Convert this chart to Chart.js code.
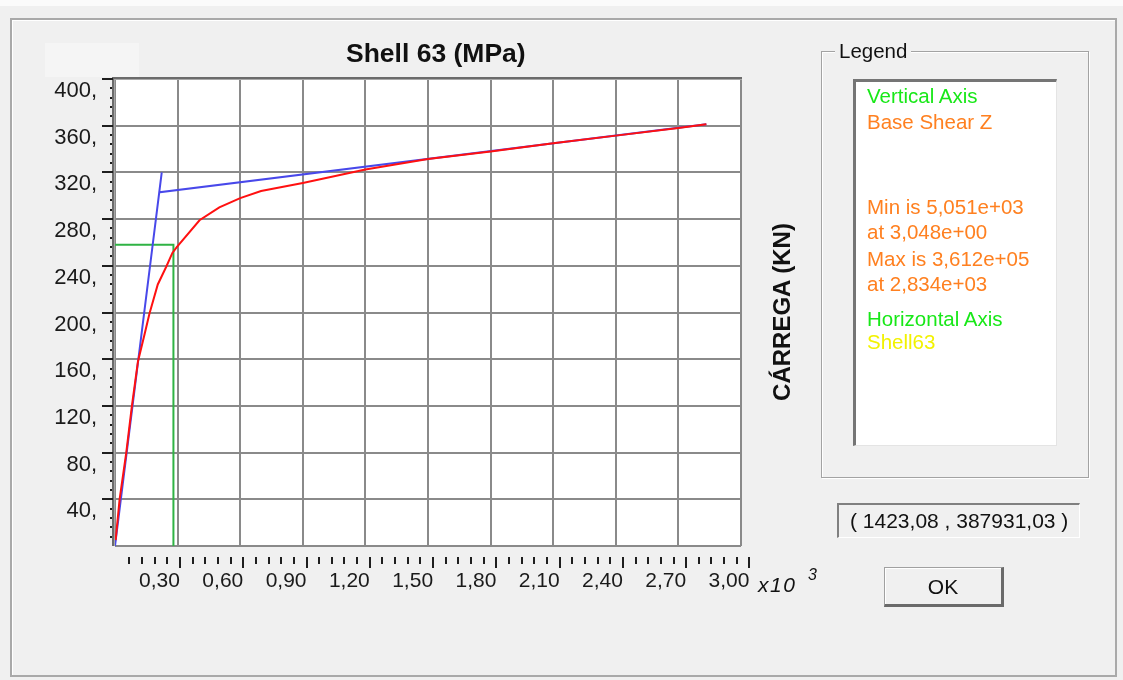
<!DOCTYPE html>
<html lang="pt">
<head>
  <meta charset="UTF-8">
  <title>Shell 63 (MPa)</title>
  <style>
    html, body { margin: 0; padding: 0; }
    body {
      width: 1123px; height: 680px; overflow: hidden; position: relative;
      background: #f0f0f0; color: #111;
      font-family: 'Liberation Sans', Arial, sans-serif;
    }
    .t { position: absolute; white-space: nowrap; line-height: 1; }
    #topStrip { position: absolute; left: 0; top: 0; width: 1123px; height: 6px; background: #fbfbfb; }
    #frame {
      position: absolute; left: 10px; top: 18px; width: 1107px; height: 659px;
      box-sizing: border-box; border: 2px solid #a9a9a9; box-shadow: inset 1px 1px 0 #fff;
    }
    #ghost { position: absolute; left: 45px; top: 43px; width: 94px; height: 34px; background: #f5f5f5; }
    canvas { position: absolute; left: 0; top: 0; }
    #title { left: 346px; top: 40px; font-size: 26.5px; font-weight: bold; }
    #ylab {
      left: 682px; top: 300px; width: 200px; height: 24px; line-height: 24px;
      text-align: center; font-size: 24px; font-weight: bold; transform: rotate(-90deg);
    }
    #group {
      position: absolute; left: 821px; top: 51px; width: 268px; height: 427px;
      box-sizing: border-box; border: 1px solid #a3a3a3;
      box-shadow: inset 1px 1px 0 #fff, 1px 1px 0 #fff;
    }
    #groupLabel { left: 835px; top: 41px; padding: 0 4px; background: #f0f0f0; font-size: 20.5px; }
    #legendBox {
      position: absolute; left: 853px; top: 79px; width: 204px; height: 367px;
      box-sizing: border-box; background: #fff;
      border-top: 3px solid #757575; border-left: 3px solid #757575;
      border-right: 1px solid #e4e4e4; border-bottom: 1px solid #e4e4e4;
    }
    .lg { left: 867px; font-size: 20.5px; }
    .green { color: #18e818; }
    .orange { color: #ff8020; }
    .yellow { color: #f2f200; }
    #coordBox {
      position: absolute; left: 837px; top: 503px; width: 243px; height: 35px;
      box-sizing: border-box; border-top: 2px solid #808080; border-left: 2px solid #808080;
      border-right: 1px solid #fff; border-bottom: 1px solid #fff;
    }
    #coord { left: 850px; top: 510px; font-size: 21px; }
    #okBtn {
      position: absolute; left: 884px; top: 567px; width: 120px; height: 40px;
      box-sizing: border-box; display: flex; align-items: center; justify-content: center;
      border-top: 1px solid #a0a0a0; border-left: 1px solid #a0a0a0;
      border-right: 3px solid #6a6a6a; border-bottom: 3px solid #6a6a6a;
      box-shadow: inset 1px 1px 0 #fff; font-size: 21px; line-height: 1;
    }
    #xmul { left: 758px; top: 574px; font-size: 21px; font-style: italic; letter-spacing: 1.5px; }
    #xexp { left: 808px; top: 567px; font-size: 16px; font-style: italic; }
  </style>
</head>
<body>
  <div id="topStrip"></div>
  <div id="frame"></div>
  <div id="ghost"></div>
  <canvas id="curveChart" width="1123" height="680"></canvas>

  <div id="title" class="t">Shell 63 (MPa)</div>
  <div id="ylab" class="t">CÁRREGA (KN)</div>
  <div id="xmul" class="t">x10</div>
  <div id="xexp" class="t">3</div>

  <div id="group"></div>
  <div id="groupLabel" class="t">Legend</div>
  <div id="legendBox"></div>
  <div class="t lg green"  style="top:86px">Vertical Axis</div>
  <div class="t lg orange" style="top:112px">Base Shear Z</div>
  <div class="t lg orange" style="top:197px">Min is 5,051e+03</div>
  <div class="t lg orange" style="top:222px">at 3,048e+00</div>
  <div class="t lg orange" style="top:249px">Max is 3,612e+05</div>
  <div class="t lg orange" style="top:274px">at 2,834e+03</div>
  <div class="t lg green"  style="top:309px">Horizontal Axis</div>
  <div class="t lg yellow" style="top:332px">Shell63</div>

  <div id="coordBox"></div>
  <div id="coord" class="t">( 1423,08 , 387931,03 )</div>
  <div id="okBtn">OK</div>

  <script src="https://cdn.jsdelivr.net/npm/chart.js"></script>
  <script>
    // curve (x in units of 10^3, y in kN)
    const redX = [0.003, 0.022, 0.054, 0.081, 0.110, 0.140, 0.165, 0.205, 0.245, 0.275, 0.296, 0.405, 0.50, 0.60, 0.70, 0.90, 1.20, 1.50, 1.80, 2.10, 2.40, 2.70, 2.834];
    const redY = [5, 40, 80, 120, 158, 180, 199, 224, 239, 251, 256, 279, 290, 298, 304, 311, 322.5, 331.5, 338, 345, 351.5, 358, 361.2];

    // bilinear fit
    const blueX = [0, 0.224, 0.212, 2.834];
    const blueY = [0, 320, 303, 361.2];

    // cursor cross-hair
    const greenX = [0, 0.28, 0.28];
    const greenY = [258, 258, 0];

    const xTicks = [0.3, 0.6, 0.9, 1.2, 1.5, 1.8, 2.1, 2.4, 2.7, 3.0];
    const xTickLabels = ['0,30', '0,60', '0,90', '1,20', '1,50', '1,80', '2,10', '2,40', '2,70', '3,00'];
    const yTicks = [40, 80, 120, 160, 200, 240, 280, 320, 360, 400];
    const yTickLabels = ['40,', '80,', '120,', '160,', '200,', '240,', '280,', '320,', '360,', '400,'];

    const FONT = "'Liberation Sans', Arial, sans-serif";
    const pts = (xs, ys) => xs.map((x, i) => ({ x: x, y: ys[i] }));

    // white plot, sunken frame, and the small tick marks around it
    const plotDecor = {
      id: 'plotDecor',
      beforeDraw(chart) {
        const { ctx, chartArea: a } = chart;
        ctx.save();
        ctx.fillStyle = '#fff';
        ctx.fillRect(a.left, a.top, a.right - a.left, a.bottom - a.top);
        ctx.restore();
      },
      beforeDatasetsDraw(chart) {
        const { ctx, chartArea: a } = chart;
        ctx.save();
        ctx.fillStyle = '#6b6b6b';
        ctx.fillRect(a.left - 3, a.top - 2, a.right - a.left + 4, 2);
        ctx.fillRect(a.left - 3, a.top - 2, 2, a.bottom - a.top + 2);
        ctx.fillStyle = '#a8a8a8';
        ctx.fillRect(a.left - 1, a.top, a.right - a.left + 2, 1);
        ctx.fillRect(a.left - 1, a.top, 1, a.bottom - a.top);
        ctx.restore();
      },
      afterDraw(chart) {
        const { ctx, chartArea: a, scales } = chart;
        const y = scales.y, xt = scales.xt;
        ctx.save();
        ctx.fillStyle = '#1e1e1e';
        for (let v = 0; v <= 400; v += 8) {
          const py = Math.round(y.getPixelForValue(v));
          if (v % 40 === 0) {
            if (v > 0) ctx.fillRect(a.left - 13, py - 1, 11, 2);
          } else {
            ctx.fillRect(a.left - 5, py - 1, 2, 2);
          }
        }
        for (let i = 1; i <= 50; i++) {
          const px = Math.round(xt.getPixelForValue(i * 0.06));
          const major = i % 5 === 0;
          ctx.fillRect(px - 1, a.bottom + 11, 2, major ? 11 : 7);
        }
        ctx.restore();
      }
    };

    new Chart(document.getElementById('curveChart'), {
      type: 'scatter',
      data: {
        datasets: [
          { label: 'Base Shear Z', data: pts(redX, redY), showLine: true, borderColor: '#ff1010',
            borderWidth: 2, pointRadius: 0, tension: 0 },
          { label: 'Bilinear', data: pts(blueX, blueY), showLine: true, borderColor: '#4848ea',
            borderWidth: 2, pointRadius: 0, tension: 0 },
          { label: 'Cursor', data: pts(greenX, greenY), showLine: true, borderColor: '#2fb344',
            borderWidth: 2, pointRadius: 0, tension: 0 }
        ]
      },
      options: {
        responsive: false,
        animation: false,
        events: [],
        layout: { padding: { top: 79, right: 382, bottom: 0, left: 0 } },
        plugins: { legend: { display: false }, tooltip: { enabled: false }, title: { display: false } },
        scales: {
          x: {
            type: 'linear', position: 'bottom', min: 0, max: 3,
            ticks: { display: false, stepSize: 0.3 },
            grid: { color: '#8a8a8a', lineWidth: 2, drawTicks: false },
            border: { display: false },
            afterFit: s => { s.height = 0; }
          },
          xt: {
            type: 'linear', axis: 'x', position: 'bottom', min: -0.008, max: 2.96,
            grid: { display: false, drawTicks: false },
            border: { display: false },
            afterBuildTicks: s => { s.ticks = xTicks.map(v => ({ value: v })); },
            ticks: {
              autoSkip: false, maxRotation: 0, align: 'end', padding: 23,
              color: '#1a1a1a', font: { family: FONT, size: 21 },
              callback: (v, i) => xTickLabels[i]
            },
            afterFit: s => { s.height = 134; }
          },
          y: {
            min: 0, max: 400,
            ticks: {
              stepSize: 40, padding: 18, labelOffset: 12,
              color: '#1a1a1a', font: { family: FONT, size: 22 },
              callback: v => { const k = yTicks.indexOf(v); return k < 0 ? '' : yTickLabels[k]; }
            },
            grid: { color: '#8a8a8a', lineWidth: 2, drawTicks: false },
            border: { display: false },
            afterFit: s => { s.width = 115; }
          }
        }
      },
      plugins: [plotDecor]
    });
  </script>
</body>
</html>
